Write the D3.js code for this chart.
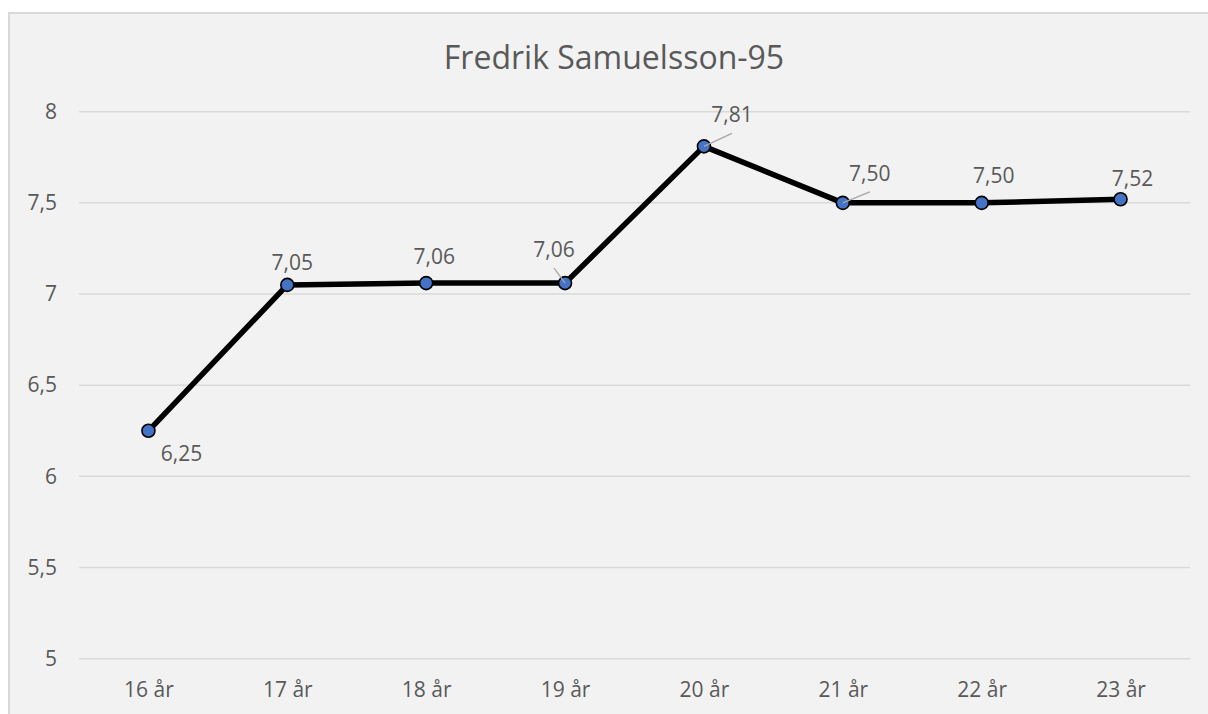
<!DOCTYPE html>
<html>
<head>
<meta charset="utf-8">
<script src="https://cdn.jsdelivr.net/npm/d3@7"></script>
<style>
  body { margin: 0; background: #ffffff; }
  svg { display: block; }
  text { font-family: "Open Sans", sans-serif; fill: #595959; }
</style>
</head>
<body>
<svg id="chart" width="1208" height="714"></svg>
<script>
const title = 'Fredrik Samuelsson-95';
const ages = ['16 år', '17 år', '18 år', '19 år', '20 år', '21 år', '22 år', '23 år'];
const scores = [6.25, 7.05, 7.06, 7.06, 7.81, 7.50, 7.50, 7.52];
const yTicks = [5, 5.5, 6, 6.5, 7, 7.5, 8];

// where each data label sits relative to its point (dx, dy to baseline), and whether it has a leader line
const labelPlacement = [
  { dx: 33, dy: 30, leader: false },
  { dx: 5, dy: -15, leader: false },
  { dx: 8, dy: -19, leader: false },
  { dx: -11, dy: -26, leader: true },
  { dx: 28, dy: -24, leader: true },
  { dx: 27, dy: -22, leader: true },
  { dx: 12, dy: -20, leader: false },
  { dx: 12, dy: -13, leader: false }
];

const FONT = '"Open Sans", sans-serif';
const svg = d3.select('#chart');
const fmt = d => d.toFixed(2).replace('.', ',');
const fmtTick = d => String(d).replace('.', ',');

// chart frame
svg.append('rect')
  .attr('x', 9).attr('y', 13)
  .attr('width', 1220).attr('height', 720)
  .attr('fill', '#f2f2f2')
  .attr('stroke', '#d9d9d9')
  .attr('stroke-width', 2);

const x = d3.scalePoint().domain(ages).range([79, 1190]).padding(0.5);
const y = d3.scaleLinear().domain([5, 8]).range([658.7, 111.7]);

// gridlines
svg.append('g')
  .selectAll('line')
  .data(yTicks)
  .join('line')
  .attr('x1', 79).attr('x2', 1190)
  .attr('y1', d => y(d)).attr('y2', d => y(d))
  .attr('stroke', '#d9d9d9')
  .attr('stroke-width', 1.5);

// y axis labels
const yAxis = svg.append('g')
  .attr('transform', 'translate(57,0)')
  .call(d3.axisLeft(y).tickValues(yTicks).tickFormat(fmtTick).tickSize(0).tickPadding(0));
yAxis.select('.domain').remove();
yAxis.selectAll('text')
  .attr('font-size', 21)
  .attr('fill', '#595959')
  .style('font-family', FONT);

// x axis labels
const xAxis = svg.append('g')
  .attr('transform', 'translate(0,682)')
  .call(d3.axisBottom(x).tickSize(0).tickPadding(0));
xAxis.select('.domain').remove();
xAxis.selectAll('text')
  .attr('font-size', 21)
  .attr('fill', '#595959')
  .style('font-family', FONT);

// title
svg.append('text')
  .attr('x', 614).attr('y', 69)
  .attr('text-anchor', 'middle')
  .attr('font-size', 32)
  .text(title);

// line
const pts = ages.map((a, i) => ({ age: a, v: scores[i], p: labelPlacement[i] }));
svg.append('path')
  .datum(pts)
  .attr('fill', 'none')
  .attr('stroke', '#000000')
  .attr('stroke-width', 5.5)
  .attr('stroke-linejoin', 'round')
  .attr('d', d3.line().x(d => x(d.age)).y(d => y(d.v)));

// markers
svg.append('g')
  .selectAll('circle')
  .data(pts)
  .join('circle')
  .attr('cx', d => x(d.age))
  .attr('cy', d => y(d.v))
  .attr('r', 6.5)
  .attr('fill', '#4472c4')
  .attr('stroke', '#000000')
  .attr('stroke-width', 1.6);

// leader lines
svg.append('g')
  .selectAll('line')
  .data(pts.filter(d => d.p.leader))
  .join('line')
  .attr('x1', d => x(d.age) + d.p.dx)
  .attr('y1', d => y(d.v) + d.p.dy + 11)
  .attr('x2', d => x(d.age))
  .attr('y2', d => y(d.v))
  .attr('stroke', '#a6a6a6')
  .attr('stroke-width', 1.3);

// data labels
svg.append('g')
  .selectAll('text')
  .data(pts)
  .join('text')
  .attr('x', d => x(d.age) + d.p.dx)
  .attr('y', d => y(d.v) + d.p.dy)
  .attr('text-anchor', 'middle')
  .attr('font-size', 21)
  .text(d => fmt(d.v));
</script>
</body>
</html>
